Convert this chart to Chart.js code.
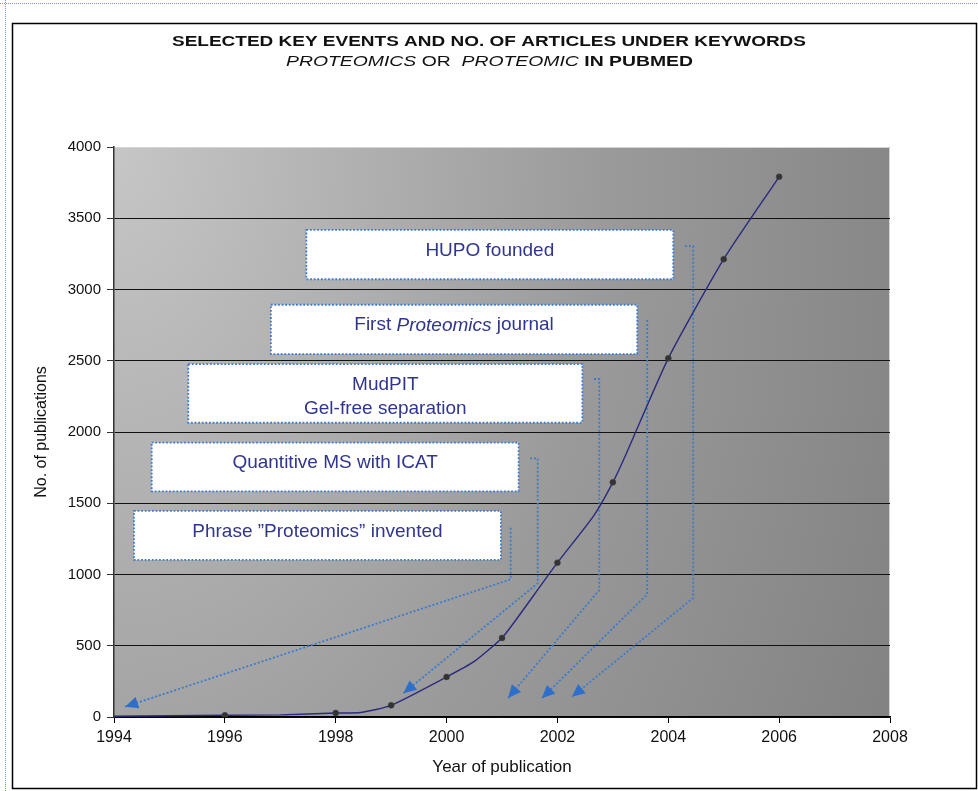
<!DOCTYPE html>
<html>
<head>
<meta charset="utf-8">
<script src="https://cdn.jsdelivr.net/npm/chart.js@4.4.1/dist/chart.umd.min.js"></script>
<style>
  html, body { margin: 0; padding: 0; background: #fff; }
  #wrap { width: 978px; height: 791px; }
</style>
</head>
<body>
<div id="wrap"><canvas id="pubChart" width="978" height="791"></canvas></div>
<script>
// publication counts
const lineYears = [1994, 1996, 1997, 1998, 1998.45, 1999, 2000, 2000.5, 2001, 2001.23, 2002, 2002.65, 2003, 2003.25, 2004, 2005, 2006];
const lineCounts = [5, 12, 15, 28, 32, 82, 281, 390, 555, 670, 1083, 1410, 1647, 1855, 2517, 3213, 3791];
const markerYears = [1996, 1998, 1999, 2000, 2001, 2002, 2003, 2004, 2005, 2006];
const markerCounts = [12, 28, 82, 281, 555, 1083, 1647, 2517, 3213, 3791];
const xTicks = [1994, 1996, 1998, 2000, 2002, 2004, 2006, 2008];
const yTicks = [0, 500, 1000, 1500, 2000, 2500, 3000, 3500, 4000];

// key events (text), each as a list of lines made of [text, italic] pieces
const eventTexts = [
  [[["HUPO founded", false]]],
  [[["First ", false], ["Proteomics", true], [" journal", false]]],
  [[["MudPIT", false]], [["Gel-free separation", false]]],
  [[["Quantitive MS with ICAT", false]]],
  [[["Phrase \u201dProteomics\u201d invented", false]]]
];

// where the event boxes and their arrows sit, in axis units (year, count)
const eventBoxes = [
  { x0: 1997.47, x1: 2004.09, y0: 3072, y1: 3418 },
  { x0: 1996.83, x1: 2003.44, y0: 2547, y1: 2893 },
  { x0: 1995.34, x1: 2002.45, y0: 2065, y1: 2477 },
  { x0: 1994.68, x1: 2001.30, y0: 1584, y1: 1925 },
  { x0: 1994.36, x1: 2000.98, y0: 1102, y1: 1446 }
];
const eventArrows = [
  [[2004.30, 3305], [2004.45, 3305], [2004.45, 835], [2002.26, 142]],
  [[2003.62, 2786], [2003.62, 861], [2001.72, 131]],
  [[2002.66, 2372], [2002.755, 2372], [2002.755, 891], [2001.11, 133]],
  [[2001.505, 1815], [2001.644, 1815], [2001.644, 938], [1999.22, 166]],
  [[2001.157, 1328], [2001.157, 966], [1994.20, 72]]
];

const FONT = "'Liberation Sans', Arial, sans-serif";
const dotBlue = "#3a7bd0";

const lineData = lineYears.map((y, i) => ({ x: y, y: lineCounts[i] }));
const markerData = markerYears.map((y, i) => ({ x: y, y: markerCounts[i] }));

const backdrop = {
  id: "backdrop",
  beforeDraw(chart) {
    const ctx = chart.ctx;
    const a = chart.chartArea;
    ctx.save();
    ctx.fillStyle = "#fff";
    ctx.fillRect(0, 0, chart.width, chart.height);

    // page frame
    ctx.strokeStyle = "#6f97d0";
    ctx.lineWidth = 1;
    ctx.setLineDash([1, 1]);
    ctx.beginPath();
    ctx.moveTo(0, 3.5); ctx.lineTo(chart.width, 3.5);
    ctx.moveTo(5.5, 0); ctx.lineTo(5.5, chart.height);
    ctx.stroke();
    ctx.setLineDash([]);
    ctx.strokeStyle = "#000";
    ctx.lineWidth = 1.5;
    ctx.strokeRect(12.5, 23.5, 964, 765);

    // plot background, light at the top left corner
    ctx.beginPath();
    ctx.rect(a.left, a.top, a.right - a.left, a.bottom - a.top);
    ctx.clip();
    ctx.translate(a.left, a.top);
    ctx.scale(1, 1.5);
    const g = ctx.createRadialGradient(0, 0, 0, 0, 0, 900);
    g.addColorStop(0, "#c6c6c6");
    g.addColorStop(0.55, "#9a9a9a");
    g.addColorStop(1, "#808080");
    ctx.fillStyle = g;
    ctx.fillRect(0, 0, a.right - a.left, (a.bottom - a.top) / 1.5);
    ctx.restore();

    ctx.save();
    ctx.strokeStyle = "#d4d4d4";
    ctx.lineWidth = 1;
    ctx.beginPath();
    ctx.moveTo(a.left, a.top + 0.5); ctx.lineTo(a.right - 0.5, a.top + 0.5);
    ctx.lineTo(a.right - 0.5, a.bottom);
    ctx.stroke();
    ctx.restore();
  }
};

function drawPieces(ctx, pieces, cx, cy, size, color) {
  ctx.fillStyle = color;
  ctx.textBaseline = "middle";
  ctx.textAlign = "left";
  let total = 0;
  pieces.forEach(p => {
    ctx.font = (p[1] ? "italic " : "") + size + "px " + FONT;
    total += ctx.measureText(p[0]).width;
  });
  let x = cx - total / 2;
  pieces.forEach(p => {
    ctx.font = (p[1] ? "italic " : "") + size + "px " + FONT;
    ctx.fillText(p[0], x, cy);
    x += ctx.measureText(p[0]).width;
  });
}

const events = {
  id: "events",
  beforeDatasetsDraw(chart) {
    const ctx = chart.ctx;
    const xs = chart.scales.x, ys = chart.scales.y;
    ctx.save();

    // connectors
    ctx.strokeStyle = dotBlue;
    ctx.fillStyle = "#2f6fcc";
    ctx.lineWidth = 1.8;
    eventArrows.forEach(pts => {
      const p = pts.map(q => [xs.getPixelForValue(q[0]), ys.getPixelForValue(q[1])]);
      ctx.setLineDash([2, 2]);
      ctx.beginPath();
      ctx.moveTo(p[0][0], p[0][1]);
      for (let i = 1; i < p.length; i++) ctx.lineTo(p[i][0], p[i][1]);
      ctx.stroke();
      ctx.setLineDash([]);
      const tip = p[p.length - 1], prev = p[p.length - 2];
      const ang = Math.atan2(tip[1] - prev[1], tip[0] - prev[0]);
      const len = 13, half = 6;
      const bx = tip[0] - len * Math.cos(ang), by = tip[1] - len * Math.sin(ang);
      ctx.beginPath();
      ctx.moveTo(tip[0], tip[1]);
      ctx.lineTo(bx + half * Math.sin(ang), by - half * Math.cos(ang));
      ctx.lineTo(bx - half * Math.sin(ang), by + half * Math.cos(ang));
      ctx.closePath();
      ctx.fill();
    });

    // boxes with their text, top aligned like a text box
    eventBoxes.forEach((b, i) => {
      const l = xs.getPixelForValue(b.x0), r = xs.getPixelForValue(b.x1);
      const t = ys.getPixelForValue(b.y1), btm = ys.getPixelForValue(b.y0);
      ctx.fillStyle = "#fff";
      ctx.fillRect(l, t, r - l, btm - t);
      ctx.strokeStyle = dotBlue;
      ctx.lineWidth = 1.8;
      ctx.setLineDash([1.8, 1.8]);
      ctx.strokeRect(l, t, r - l, btm - t);
      ctx.setLineDash([]);
      const lines = eventTexts[i];
      const lh = 24;
      lines.forEach((pieces, j) => {
        drawPieces(ctx, pieces, (l + r) / 2, t + 20.5 + j * lh, 19, "#30358f");
      });
    });
    ctx.restore();
  }
};

function drawStretched(ctx, pieces, cx, cy, width) {
  ctx.save();
  ctx.textBaseline = "middle";
  ctx.textAlign = "left";
  ctx.fillStyle = "#111";
  let total = 0;
  pieces.forEach(p => { ctx.font = p[1]; total += ctx.measureText(p[0]).width; });
  ctx.translate(cx - width / 2, cy);
  ctx.scale(width / total, 1);
  let x = 0;
  pieces.forEach(p => {
    ctx.font = p[1];
    ctx.fillText(p[0], x, 0);
    x += ctx.measureText(p[0]).width;
  });
  ctx.restore();
}

const heading = {
  id: "heading",
  afterDraw(chart) {
    const ctx = chart.ctx;
    drawStretched(ctx, [["SELECTED KEY EVENTS AND NO. OF ARTICLES UNDER KEYWORDS", "bold 14px " + FONT]], 489, 42, 634);
    drawStretched(ctx, [
      ["PROTEOMICS", "italic 14px " + FONT],
      [" OR  ", "14px " + FONT],
      ["PROTEOMIC", "italic 14px " + FONT],
      [" IN PUBMED", "bold 14px " + FONT]
    ], 489.5, 62, 407);
  }
};

const ctx = document.getElementById("pubChart");
new Chart(ctx, {
  type: "scatter",
  data: {
    datasets: [
      {
        label: "Articles",
        data: lineData,
        showLine: true,
        borderColor: "#2a2a80",
        borderWidth: 1.4,
        pointRadius: 0,
        tension: 0.2,
        order: 2
      },
      {
        label: "Yearly count",
        data: markerData,
        showLine: false,
        pointRadius: 3,
        pointBackgroundColor: "#333",
        pointBorderColor: "#444",
        pointBorderWidth: 0.5,
        order: 1
      }
    ]
  },
  options: {
    responsive: false,
    animation: false,
    layout: { padding: { top: 147, left: 28, right: 88, bottom: 9 } },
    plugins: {
      legend: { display: false },
      tooltip: { enabled: false }
    },
    scales: {
      x: {
        type: "linear",
        min: 1994,
        max: 2008,
        afterFit(scale) { scale.height = 65; },
        afterBuildTicks(scale) { scale.ticks = xTicks.map(v => ({ value: v })); },
        ticks: {
          callback: v => String(v),
          font: { family: FONT, size: 16 },
          color: "#111",
          padding: 5,
          maxRotation: 0
        },
        grid: { drawOnChartArea: false, drawTicks: true, tickLength: 6, color: "#000" },
        border: { color: "#000", width: 1.5 },
        title: {
          display: true,
          text: "Year of publication",
          font: { family: FONT, size: 17 },
          color: "#111"
        }
      },
      y: {
        min: 0,
        max: 4000,
        afterFit(scale) { scale.width = 86; },
        afterBuildTicks(scale) { scale.ticks = yTicks.map(v => ({ value: v })); },
        ticks: {
          callback: v => String(v),
          font: { family: FONT, size: 15 },
          color: "#111",
          padding: 6
        },
        grid: {
          color: c => (c.tick && c.tick.value === 4000 ? "rgba(0,0,0,0)" : "#111"),
          tickColor: "#333",
          tickLength: 7,
          lineWidth: 1
        },
        border: { color: "#333", width: 1.5 },
        title: {
          display: true,
          text: "No. of publications",
          font: { family: FONT, size: 16 },
          color: "#111"
        }
      }
    }
  },
  plugins: [backdrop, events, heading]
});
</script>
</body>
</html>
